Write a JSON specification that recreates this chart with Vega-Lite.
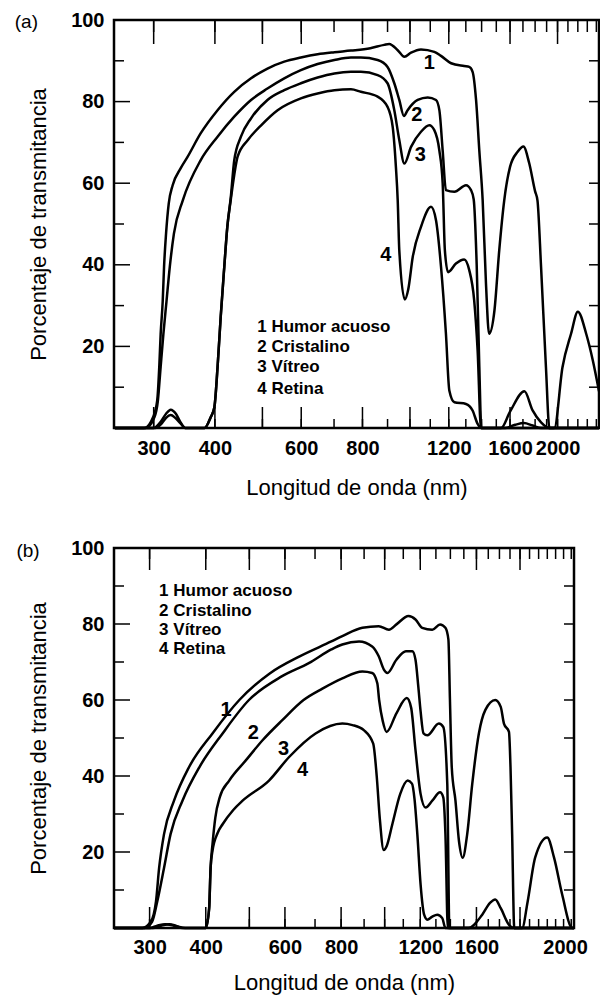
{
  "$schema": "https://vega.github.io/schema/vega-lite/v6.json",
  "background": "white",
  "padding": {"left": 13, "top": 8, "right": 0, "bottom": 0},
  "spacing": 36,
  "config": {
    "font": "Liberation Sans",
    "view": {"stroke": "black", "strokeWidth": 2.5},
    "tick": {"opacity": 1},
    "axis": {"grid": false, "domain": false, "ticks": false, "tickSize": 0, "labelColor": "black", "titleColor": "black", "labelFont": "Liberation Sans", "titleFont": "Liberation Sans", "labelFlush": false, "labelOverlap": false}
  },
  "datasets": {
    "curvesA": [
      {"curve":"1","nm":250,"pct":0},{"curve":"1","nm":287,"pct":0},{"curve":"1","nm":299,"pct":2.6},{"curve":"1","nm":305,"pct":6.7},{"curve":"1","nm":308,"pct":15},{"curve":"1","nm":310,"pct":23},{"curve":"1","nm":313,"pct":31},{"curve":"1","nm":315,"pct":39.5},{"curve":"1","nm":318,"pct":47.7},{"curve":"1","nm":322,"pct":55},{"curve":"1","nm":328,"pct":59.5},{"curve":"1","nm":340,"pct":63.5},{"curve":"1","nm":352,"pct":66.5},{"curve":"1","nm":374,"pct":72.2},{"curve":"1","nm":405,"pct":77.9},{"curve":"1","nm":438,"pct":82.4},{"curve":"1","nm":474,"pct":85.7},{"curve":"1","nm":512,"pct":88.1},{"curve":"1","nm":554,"pct":89.8},{"curve":"1","nm":599,"pct":90.8},{"curve":"1","nm":648,"pct":91.6},{"curve":"1","nm":701,"pct":92.1},{"curve":"1","nm":758,"pct":92.5},{"curve":"1","nm":830,"pct":93.1},{"curve":"1","nm":886,"pct":93.9},{"curve":"1","nm":907,"pct":94.1},{"curve":"1","nm":944,"pct":92.6},{"curve":"1","nm":974,"pct":91},{"curve":"1","nm":1005,"pct":92},{"curve":"1","nm":1053,"pct":92.8},{"curve":"1","nm":1121,"pct":92.2},{"curve":"1","nm":1157,"pct":91.2},{"curve":"1","nm":1213,"pct":89.4},{"curve":"1","nm":1290,"pct":88.7},{"curve":"1","nm":1321,"pct":88.5},{"curve":"1","nm":1342,"pct":87.3},{"curve":"1","nm":1364,"pct":80.4},{"curve":"1","nm":1385,"pct":68},{"curve":"1","nm":1407,"pct":55.8},{"curve":"1","nm":1429,"pct":35.4},{"curve":"1","nm":1450,"pct":23.1},{"curve":"1","nm":1487,"pct":28.8},{"curve":"1","nm":1521,"pct":43.6},{"curve":"1","nm":1557,"pct":55.8},{"curve":"1","nm":1600,"pct":64},{"curve":"1","nm":1658,"pct":67.7},{"curve":"1","nm":1704,"pct":69},{"curve":"1","nm":1750,"pct":65},{"curve":"1","nm":1800,"pct":58},{"curve":"1","nm":1820,"pct":55.8},{"curve":"1","nm":1851,"pct":39.5},{"curve":"1","nm":1894,"pct":14.9},{"curve":"1","nm":1925,"pct":0},{"curve":"1","nm":1970,"pct":0},{"curve":"1","nm":2047,"pct":14.9},{"curve":"1","nm":2131,"pct":23.1},{"curve":"1","nm":2200,"pct":28.5},{"curve":"1","nm":2288,"pct":23.1},{"curve":"1","nm":2360,"pct":16.6},{"curve":"1","nm":2430,"pct":9},
      {"curve":"2","nm":250,"pct":0},{"curve":"2","nm":289,"pct":0},{"curve":"2","nm":301,"pct":2.6},{"curve":"2","nm":306,"pct":6.7},{"curve":"2","nm":310,"pct":15},{"curve":"2","nm":314,"pct":23},{"curve":"2","nm":318.6,"pct":31},{"curve":"2","nm":323.6,"pct":39.5},{"curve":"2","nm":330,"pct":47.7},{"curve":"2","nm":344,"pct":55.8},{"curve":"2","nm":374,"pct":65.6},{"curve":"2","nm":405,"pct":71.4},{"curve":"2","nm":438,"pct":76.3},{"curve":"2","nm":474,"pct":80.4},{"curve":"2","nm":512,"pct":83.2},{"curve":"2","nm":554,"pct":85.7},{"curve":"2","nm":599,"pct":87.7},{"curve":"2","nm":648,"pct":89.2},{"curve":"2","nm":701,"pct":90.2},{"curve":"2","nm":758,"pct":90.8},{"curve":"2","nm":794,"pct":90.8},{"curve":"2","nm":859,"pct":90.2},{"curve":"2","nm":900,"pct":88.5},{"curve":"2","nm":929,"pct":84.5},{"curve":"2","nm":951,"pct":80.4},{"curve":"2","nm":972,"pct":76.5},{"curve":"2","nm":989,"pct":77.9},{"curve":"2","nm":1037,"pct":80.4},{"curve":"2","nm":1087,"pct":81},{"curve":"2","nm":1130,"pct":80.4},{"curve":"2","nm":1148,"pct":77.9},{"curve":"2","nm":1166,"pct":68},{"curve":"2","nm":1184,"pct":58.3},{"curve":"2","nm":1232,"pct":57.9},{"curve":"2","nm":1301,"pct":59.5},{"curve":"2","nm":1332,"pct":58.3},{"curve":"2","nm":1349,"pct":56},{"curve":"2","nm":1368,"pct":40},{"curve":"2","nm":1385,"pct":15},{"curve":"2","nm":1398,"pct":0},{"curve":"2","nm":1534,"pct":0},{"curve":"2","nm":1600,"pct":4},{"curve":"2","nm":1712,"pct":9},{"curve":"2","nm":1779,"pct":4.3},{"curve":"2","nm":1851,"pct":1.4},{"curve":"2","nm":1925,"pct":0},{"curve":"2","nm":2430,"pct":0},
      {"curve":"3","nm":250,"pct":0},{"curve":"3","nm":300,"pct":0},{"curve":"3","nm":310,"pct":1.5},{"curve":"3","nm":318,"pct":3.5},{"curve":"3","nm":325,"pct":4.5},{"curve":"3","nm":333,"pct":3.5},{"curve":"3","nm":340,"pct":1.5},{"curve":"3","nm":348,"pct":0},{"curve":"3","nm":381,"pct":0},{"curve":"3","nm":392,"pct":2.6},{"curve":"3","nm":399,"pct":5.1},{"curve":"3","nm":405,"pct":14.9},{"curve":"3","nm":411,"pct":27.2},{"curve":"3","nm":418,"pct":39.5},{"curve":"3","nm":424,"pct":49.3},{"curve":"3","nm":431,"pct":56.6},{"curve":"3","nm":438,"pct":65.6},{"curve":"3","nm":452,"pct":71.4},{"curve":"3","nm":474,"pct":75.9},{"curve":"3","nm":512,"pct":80.4},{"curve":"3","nm":554,"pct":82.8},{"curve":"3","nm":599,"pct":84.5},{"curve":"3","nm":648,"pct":85.9},{"curve":"3","nm":701,"pct":86.9},{"curve":"3","nm":758,"pct":87.3},{"curve":"3","nm":794,"pct":87.3},{"curve":"3","nm":859,"pct":86.5},{"curve":"3","nm":900,"pct":84.5},{"curve":"3","nm":929,"pct":77.9},{"curve":"3","nm":951,"pct":70.6},{"curve":"3","nm":974,"pct":64.8},{"curve":"3","nm":1005,"pct":68.9},{"curve":"3","nm":1053,"pct":72.6},{"curve":"3","nm":1095,"pct":74.2},{"curve":"3","nm":1121,"pct":73},{"curve":"3","nm":1148,"pct":68},{"curve":"3","nm":1166,"pct":60},{"curve":"3","nm":1178,"pct":43.6},{"curve":"3","nm":1196,"pct":38.2},{"curve":"3","nm":1241,"pct":40.3},{"curve":"3","nm":1290,"pct":41.3},{"curve":"3","nm":1321,"pct":38.7},{"curve":"3","nm":1352,"pct":31.3},{"curve":"3","nm":1374,"pct":19},{"curve":"3","nm":1396,"pct":0},{"curve":"3","nm":1563,"pct":0},{"curve":"3","nm":1640,"pct":0.8},{"curve":"3","nm":1708,"pct":1.2},{"curve":"3","nm":1780,"pct":0.6},{"curve":"3","nm":1851,"pct":0},{"curve":"3","nm":2430,"pct":0},
      {"curve":"4","nm":250,"pct":0},{"curve":"4","nm":302,"pct":0},{"curve":"4","nm":312,"pct":1.2},{"curve":"4","nm":318,"pct":2.5},{"curve":"4","nm":325,"pct":3.2},{"curve":"4","nm":332,"pct":2.5},{"curve":"4","nm":340,"pct":1.2},{"curve":"4","nm":348,"pct":0},{"curve":"4","nm":381,"pct":0},{"curve":"4","nm":392,"pct":2.6},{"curve":"4","nm":399,"pct":5.1},{"curve":"4","nm":405,"pct":14.9},{"curve":"4","nm":411,"pct":27.2},{"curve":"4","nm":418,"pct":39.5},{"curve":"4","nm":424,"pct":49.3},{"curve":"4","nm":431,"pct":56},{"curve":"4","nm":438,"pct":62},{"curve":"4","nm":445,"pct":66.5},{"curve":"4","nm":467,"pct":70.6},{"curve":"4","nm":497,"pct":74.2},{"curve":"4","nm":537,"pct":77.9},{"curve":"4","nm":599,"pct":80.8},{"curve":"4","nm":648,"pct":82},{"curve":"4","nm":701,"pct":82.8},{"curve":"4","nm":758,"pct":83},{"curve":"4","nm":794,"pct":82.4},{"curve":"4","nm":859,"pct":81.2},{"curve":"4","nm":900,"pct":78.7},{"curve":"4","nm":922,"pct":73.8},{"curve":"4","nm":936,"pct":64},{"curve":"4","nm":944,"pct":55.8},{"curve":"4","nm":951,"pct":43.6},{"curve":"4","nm":976,"pct":31.5},{"curve":"4","nm":992,"pct":34},{"curve":"4","nm":1013,"pct":41.9},{"curve":"4","nm":1053,"pct":49.3},{"curve":"4","nm":1104,"pct":54.2},{"curve":"4","nm":1130,"pct":50.9},{"curve":"4","nm":1157,"pct":39.5},{"curve":"4","nm":1184,"pct":23.1},{"curve":"4","nm":1203,"pct":9.2},{"curve":"4","nm":1232,"pct":6.3},{"curve":"4","nm":1301,"pct":5.9},{"curve":"4","nm":1342,"pct":4.3},{"curve":"4","nm":1374,"pct":1},{"curve":"4","nm":1400,"pct":0},{"curve":"4","nm":2430,"pct":0}
    ],
    "numsA": [
      {"nm":1095,"pct":89.4,"label":"1"},{"nm":1033,"pct":76.7,"label":"2"},{"nm":1050,"pct":66.9,"label":"3"},{"nm":893,"pct":42.3,"label":"4"}
    ],
    "legendA": [
      {"nm":488,"pct":24.7,"label":"1 Humor acuoso"},{"nm":488,"pct":19.8,"label":"2 Cristalino"},{"nm":488,"pct":14.9,"label":"3 Vítreo"},{"nm":488,"pct":9.6,"label":"4 Retina"}
    ],
    "tagA": [{"nm":165,"pct":99.5,"label":"(a)"}],
    "xTicksA": [
      {"nm":300,"kind":"major"},{"nm":400,"kind":"major"},{"nm":500,"kind":"major"},{"nm":600,"kind":"major"},{"nm":700,"kind":"minor"},{"nm":800,"kind":"major"},{"nm":900,"kind":"minor"},{"nm":1000,"kind":"major"},{"nm":1100,"kind":"minor"},{"nm":1200,"kind":"major"},{"nm":1300,"kind":"minor"},{"nm":1400,"kind":"minor"},{"nm":1500,"kind":"minor"},{"nm":1600,"kind":"major"},{"nm":1700,"kind":"minor"},{"nm":1800,"kind":"minor"},{"nm":1900,"kind":"minor"},{"nm":2000,"kind":"major"},{"nm":2100,"kind":"minor"},{"nm":2200,"kind":"minor"},{"nm":2300,"kind":"minor"},{"nm":2400,"kind":"minor"}
    ],
    "xTicksB": [
      {"nm":300,"kind":"major"},{"nm":400,"kind":"major"},{"nm":500,"kind":"major"},{"nm":600,"kind":"major"},{"nm":700,"kind":"minor"},{"nm":800,"kind":"major"},{"nm":900,"kind":"minor"},{"nm":1000,"kind":"major"},{"nm":1100,"kind":"minor"},{"nm":1200,"kind":"major"},{"nm":1300,"kind":"minor"},{"nm":1400,"kind":"minor"},{"nm":1500,"kind":"minor"},{"nm":1600,"kind":"major"},{"nm":1700,"kind":"minor"},{"nm":1800,"kind":"minor"},{"nm":1900,"kind":"minor"},{"nm":2000,"kind":"major"},{"nm":2100,"kind":"minor"},{"nm":2200,"kind":"minor"},{"nm":2300,"kind":"minor"},{"nm":2400,"kind":"minor"},{"nm":2500,"kind":"minor"},{"nm":2600,"kind":"minor"}
    ],
    "yTicks": [
      {"pct":10,"kind":"minor"},{"pct":20,"kind":"major"},{"pct":30,"kind":"minor"},{"pct":40,"kind":"major"},{"pct":50,"kind":"minor"},{"pct":60,"kind":"major"},{"pct":70,"kind":"minor"},{"pct":80,"kind":"major"},{"pct":90,"kind":"minor"}
    ],
    "curvesB": [
      {"curve":"1","nm":250,"pct":0},{"curve":"1","nm":289,"pct":0},{"curve":"1","nm":302,"pct":1.7},{"curve":"1","nm":310,"pct":7},{"curve":"1","nm":315,"pct":15.8},{"curve":"1","nm":323,"pct":24.7},{"curve":"1","nm":340,"pct":33.5},{"curve":"1","nm":367,"pct":42.3},{"curve":"1","nm":414,"pct":51.2},{"curve":"1","nm":475,"pct":60},{"curve":"1","nm":555,"pct":67},{"curve":"1","nm":647,"pct":71.5},{"curve":"1","nm":761,"pct":75.4},{"curve":"1","nm":805,"pct":76.8},{"curve":"1","nm":892,"pct":79},{"curve":"1","nm":970,"pct":79.4},{"curve":"1","nm":1022,"pct":78.5},{"curve":"1","nm":1062,"pct":79.9},{"curve":"1","nm":1130,"pct":82.1},{"curve":"1","nm":1171,"pct":81.2},{"curve":"1","nm":1212,"pct":79},{"curve":"1","nm":1276,"pct":78.5},{"curve":"1","nm":1328,"pct":79.9},{"curve":"1","nm":1365,"pct":79},{"curve":"1","nm":1386,"pct":75.9},{"curve":"1","nm":1397,"pct":60},{"curve":"1","nm":1410,"pct":42.3},{"curve":"1","nm":1437,"pct":33.5},{"curve":"1","nm":1463,"pct":22.9},{"curve":"1","nm":1491,"pct":18.5},{"curve":"1","nm":1526,"pct":24.7},{"curve":"1","nm":1566,"pct":37.9},{"curve":"1","nm":1620,"pct":51.2},{"curve":"1","nm":1675,"pct":57.4},{"curve":"1","nm":1762,"pct":60},{"curve":"1","nm":1812,"pct":58.2},{"curve":"1","nm":1842,"pct":53.8},{"curve":"1","nm":1890,"pct":51.6},{"curve":"1","nm":1905,"pct":42.3},{"curve":"1","nm":1921,"pct":24.7},{"curve":"1","nm":1942,"pct":0},{"curve":"1","nm":2022,"pct":0},{"curve":"1","nm":2080,"pct":7},{"curve":"1","nm":2161,"pct":18.5},{"curve":"1","nm":2299,"pct":23.8},{"curve":"1","nm":2381,"pct":18.5},{"curve":"1","nm":2482,"pct":8.8},{"curve":"1","nm":2613,"pct":0},{"curve":"1","nm":2637,"pct":0},
      {"curve":"2","nm":250,"pct":0},{"curve":"2","nm":292,"pct":0},{"curve":"2","nm":304,"pct":1.7},{"curve":"2","nm":312,"pct":7},{"curve":"2","nm":323,"pct":15.8},{"curve":"2","nm":334,"pct":24.7},{"curve":"2","nm":355,"pct":33.5},{"curve":"2","nm":387,"pct":42.3},{"curve":"2","nm":436,"pct":51.2},{"curve":"2","nm":499,"pct":60},{"curve":"2","nm":590,"pct":66.2},{"curve":"2","nm":678,"pct":69.7},{"curve":"2","nm":761,"pct":73.3},{"curve":"2","nm":805,"pct":74.6},{"curve":"2","nm":877,"pct":75.4},{"curve":"2","nm":938,"pct":74.1},{"curve":"2","nm":970,"pct":71.5},{"curve":"2","nm":996,"pct":68},{"curve":"2","nm":1014,"pct":67.1},{"curve":"2","nm":1062,"pct":70.6},{"curve":"2","nm":1115,"pct":72.8},{"curve":"2","nm":1152,"pct":72.8},{"curve":"2","nm":1171,"pct":70.6},{"curve":"2","nm":1188,"pct":63.5},{"curve":"2","nm":1202,"pct":57},{"curve":"2","nm":1220,"pct":51.2},{"curve":"2","nm":1244,"pct":50.7},{"curve":"2","nm":1320,"pct":53.8},{"curve":"2","nm":1350,"pct":52.9},{"curve":"2","nm":1378,"pct":37.9},{"curve":"2","nm":1393,"pct":0},{"curve":"2","nm":1536,"pct":0},{"curve":"2","nm":1648,"pct":3.5},{"curve":"2","nm":1715,"pct":6.6},{"curve":"2","nm":1762,"pct":7.5},{"curve":"2","nm":1812,"pct":5.2},{"curve":"2","nm":1891,"pct":0.8},{"curve":"2","nm":1942,"pct":0},{"curve":"2","nm":2637,"pct":0},
      {"curve":"3","nm":250,"pct":0},{"curve":"3","nm":300,"pct":0},{"curve":"3","nm":312,"pct":0.6},{"curve":"3","nm":325,"pct":1},{"curve":"3","nm":340,"pct":0.6},{"curve":"3","nm":355,"pct":0},{"curve":"3","nm":400,"pct":0},{"curve":"3","nm":407,"pct":5.2},{"curve":"3","nm":410,"pct":15.8},{"curve":"3","nm":414,"pct":22},{"curve":"3","nm":420,"pct":29},{"curve":"3","nm":430,"pct":34.5},{"curve":"3","nm":451,"pct":38.8},{"curve":"3","nm":491,"pct":44.1},{"curve":"3","nm":535,"pct":49.4},{"curve":"3","nm":592,"pct":54.7},{"curve":"3","nm":660,"pct":60},{"curve":"3","nm":727,"pct":63},{"curve":"3","nm":805,"pct":65.7},{"curve":"3","nm":892,"pct":67.5},{"curve":"3","nm":938,"pct":67.1},{"curve":"3","nm":963,"pct":64.4},{"curve":"3","nm":972,"pct":60},{"curve":"3","nm":990,"pct":54.5},{"curve":"3","nm":1010,"pct":51.6},{"curve":"3","nm":1062,"pct":56.5},{"curve":"3","nm":1120,"pct":60.5},{"curve":"3","nm":1145,"pct":58},{"curve":"3","nm":1171,"pct":46.8},{"curve":"3","nm":1202,"pct":35.3},{"curve":"3","nm":1233,"pct":31.7},{"curve":"3","nm":1276,"pct":33.5},{"curve":"3","nm":1328,"pct":35.7},{"curve":"3","nm":1350,"pct":34.4},{"curve":"3","nm":1365,"pct":24.7},{"curve":"3","nm":1382,"pct":0},{"curve":"3","nm":2637,"pct":0},
      {"curve":"4","nm":250,"pct":0},{"curve":"4","nm":305,"pct":0},{"curve":"4","nm":318,"pct":0.6},{"curve":"4","nm":332,"pct":1},{"curve":"4","nm":345,"pct":0.5},{"curve":"4","nm":360,"pct":0},{"curve":"4","nm":400,"pct":0},{"curve":"4","nm":407,"pct":5.2},{"curve":"4","nm":410,"pct":15.8},{"curve":"4","nm":414,"pct":20.3},{"curve":"4","nm":425,"pct":25},{"curve":"4","nm":436,"pct":27.3},{"curve":"4","nm":460,"pct":31},{"curve":"4","nm":483,"pct":33.5},{"curve":"4","nm":553,"pct":38.8},{"curve":"4","nm":613,"pct":45},{"curve":"4","nm":702,"pct":51.2},{"curve":"4","nm":805,"pct":53.8},{"curve":"4","nm":848,"pct":53.4},{"curve":"4","nm":900,"pct":52},{"curve":"4","nm":943,"pct":48.5},{"curve":"4","nm":960,"pct":40},{"curve":"4","nm":975,"pct":29},{"curve":"4","nm":995,"pct":20.5},{"curve":"4","nm":1010,"pct":21.5},{"curve":"4","nm":1040,"pct":27.3},{"curve":"4","nm":1083,"pct":35.3},{"curve":"4","nm":1125,"pct":38.8},{"curve":"4","nm":1150,"pct":38},{"curve":"4","nm":1165,"pct":34},{"curve":"4","nm":1182,"pct":24.7},{"curve":"4","nm":1202,"pct":11.4},{"curve":"4","nm":1224,"pct":3.5},{"curve":"4","nm":1244,"pct":2.2},{"curve":"4","nm":1276,"pct":3},{"curve":"4","nm":1309,"pct":3.5},{"curve":"4","nm":1343,"pct":2.6},{"curve":"4","nm":1365,"pct":0},{"curve":"4","nm":2637,"pct":0}
    ],
    "numsB": [
      {"nm":444,"pct":57.4,"label":"1"},{"nm":510,"pct":51.2,"label":"2"},{"nm":596,"pct":47.2,"label":"3"},{"nm":657,"pct":41.5,"label":"4"}
    ],
    "legendB": [
      {"nm":315,"pct":88.6,"label":"1 Humor acuoso"},{"nm":315,"pct":83.5,"label":"2 Cristalino"},{"nm":315,"pct":78.5,"label":"3 Vítreo"},{"nm":315,"pct":73.3,"label":"4 Retina"}
    ],
    "tagB": [{"nm":161,"pct":99.1,"label":"(b)"}]
  },
  "vconcat": [
    {
      "width": 485,
      "height": 408,
      "layer": [
        {
          "data": {"name": "curvesA"},
          "mark": {"type": "line", "color": "black", "strokeWidth": 2.5, "interpolate": "monotone", "strokeJoin": "round"},
          "encoding": {
            "x": {"field": "nm", "type": "quantitative", "title": "Longitud de onda (nm)", "scale": {"type": "log", "domain": [249, 2430], "nice": false},
              "axis": {"orient": "bottom", "values": [300,400,600,800,1200,1600,2000], "format": "d",
                "labelPadding": 10, "labelFontSize": 20, "labelFontWeight": "bold",
                "titleFontSize": 22, "titleFontWeight": "normal", "titlePadding": 19}},
            "y": {"field": "pct", "type": "quantitative", "title": "Porcentaje de transmitancia", "scale": {"domain": [0, 100], "nice": false, "zero": true},
              "axis": {"orient": "left", "values": [20,40,60,80,100], "format": "d",
                "labelPadding": 10, "labelFontSize": 20, "labelFontWeight": "bold",
                "titleFontSize": 22, "titleFontWeight": "normal", "titlePadding": 20}},
            "detail": {"field": "curve"}
          }
        },
        {
          "data": {"name": "xTicksA"},
          "transform": [{"filter": "datum.kind == 'major'"}],
          "mark": {"type": "tick", "orient": "vertical", "size": 24, "thickness": 1.5, "color": "black", "yOffset": 12},
          "encoding": {"x": {"field": "nm", "type": "quantitative", "title": "Longitud de onda (nm)"}, "y": {"datum": 100, "type": "quantitative", "title": "Porcentaje de transmitancia"}}
        },
        {
          "data": {"name": "xTicksA"},
          "mark": {"type": "tick", "orient": "vertical", "size": 12, "thickness": 1.5, "color": "black", "yOffset": 6},
          "encoding": {"x": {"field": "nm", "type": "quantitative", "title": "Longitud de onda (nm)"}, "y": {"datum": 100, "type": "quantitative", "title": "Porcentaje de transmitancia"}}
        },
        {
          "data": {"name": "xTicksA"},
          "transform": [{"filter": "datum.kind == 'major'"}],
          "mark": {"type": "tick", "orient": "vertical", "size": 21, "thickness": 1.5, "color": "black", "yOffset": -10.5},
          "encoding": {"x": {"field": "nm", "type": "quantitative", "title": "Longitud de onda (nm)"}, "y": {"datum": 0, "type": "quantitative", "title": "Porcentaje de transmitancia"}}
        },
        {
          "data": {"name": "xTicksA"},
          "mark": {"type": "tick", "orient": "vertical", "size": 9, "thickness": 1.5, "color": "black", "yOffset": -4.5},
          "encoding": {"x": {"field": "nm", "type": "quantitative", "title": "Longitud de onda (nm)"}, "y": {"datum": 0, "type": "quantitative", "title": "Porcentaje de transmitancia"}}
        },
        {
          "data": {"name": "yTicks"},
          "transform": [{"filter": "datum.kind == 'major'"}],
          "mark": {"type": "tick", "orient": "horizontal", "size": 16, "thickness": 1.5, "color": "black", "xOffset": 8},
          "encoding": {"y": {"field": "pct", "type": "quantitative", "title": "Porcentaje de transmitancia"}, "x": {"datum": 249, "type": "quantitative", "title": "Longitud de onda (nm)"}}
        },
        {
          "data": {"name": "yTicks"},
          "transform": [{"filter": "datum.kind == 'minor'"}],
          "mark": {"type": "tick", "orient": "horizontal", "size": 10, "thickness": 1.5, "color": "black", "xOffset": 5},
          "encoding": {"y": {"field": "pct", "type": "quantitative", "title": "Porcentaje de transmitancia"}, "x": {"datum": 249, "type": "quantitative", "title": "Longitud de onda (nm)"}}
        },
        {
          "data": {"name": "yTicks"},
          "mark": {"type": "tick", "orient": "horizontal", "size": 10, "thickness": 1.5, "color": "black", "xOffset": -5},
          "encoding": {"y": {"field": "pct", "type": "quantitative", "title": "Porcentaje de transmitancia"}, "x": {"datum": 2430, "type": "quantitative", "title": "Longitud de onda (nm)"}}
        },
        {
          "data": {"name": "numsA"},
          "mark": {"type": "text", "fontSize": 20, "fontWeight": "bold", "color": "black", "align": "center", "baseline": "middle"},
          "encoding": {"x": {"field": "nm", "type": "quantitative", "title": "Longitud de onda (nm)"}, "y": {"field": "pct", "type": "quantitative", "title": "Porcentaje de transmitancia"}, "text": {"field": "label"}}
        },
        {
          "data": {"name": "legendA"},
          "mark": {"type": "text", "fontSize": 17, "fontWeight": "bold", "color": "black", "align": "left", "baseline": "middle"},
          "encoding": {"x": {"field": "nm", "type": "quantitative", "title": "Longitud de onda (nm)"}, "y": {"field": "pct", "type": "quantitative", "title": "Porcentaje de transmitancia"}, "text": {"field": "label"}}
        },
        {
          "data": {"name": "tagA"},
          "mark": {"type": "text", "fontSize": 19, "color": "black", "align": "center", "baseline": "middle"},
          "encoding": {"x": {"field": "nm", "type": "quantitative", "title": "Longitud de onda (nm)"}, "y": {"field": "pct", "type": "quantitative", "title": "Porcentaje de transmitancia"}, "text": {"field": "label"}}
        }
      ]
    },
    {
      "width": 460,
      "height": 380,
      "layer": [
        {
          "data": {"name": "curvesB"},
          "mark": {"type": "line", "color": "black", "strokeWidth": 2.5, "interpolate": "monotone", "strokeJoin": "round"},
          "encoding": {
            "x": {"field": "nm", "type": "quantitative", "title": "Longitud de onda (nm)", "scale": {"type": "log", "domain": [250, 2637], "nice": false},
              "axis": {"orient": "bottom", "values": [300,400,600,800,1200,1600,2000], "format": "d",
                "labelOffset": {"condition": {"test": "datum.value == 2000", "value": 45}, "value": 0},
                "labelPadding": 9, "labelFontSize": 20, "labelFontWeight": "bold",
                "titleFontSize": 22, "titleFontWeight": "normal", "titlePadding": 15}},
            "y": {"field": "pct", "type": "quantitative", "title": "Porcentaje de transmitancia", "scale": {"domain": [0, 100], "nice": false, "zero": true},
              "axis": {"orient": "left", "values": [20,40,60,80,100], "format": "d",
                "labelPadding": 10, "labelFontSize": 20, "labelFontWeight": "bold",
                "titleFontSize": 22, "titleFontWeight": "normal", "titlePadding": 20}},
            "detail": {"field": "curve"}
          }
        },
        {
          "data": {"name": "xTicksB"},
          "transform": [{"filter": "datum.kind == 'major'"}],
          "mark": {"type": "tick", "orient": "vertical", "size": 22, "thickness": 1.5, "color": "black", "yOffset": 11},
          "encoding": {"x": {"field": "nm", "type": "quantitative", "title": "Longitud de onda (nm)"}, "y": {"datum": 100, "type": "quantitative", "title": "Porcentaje de transmitancia"}}
        },
        {
          "data": {"name": "xTicksB"},
          "mark": {"type": "tick", "orient": "vertical", "size": 11, "thickness": 1.5, "color": "black", "yOffset": 5.5},
          "encoding": {"x": {"field": "nm", "type": "quantitative", "title": "Longitud de onda (nm)"}, "y": {"datum": 100, "type": "quantitative", "title": "Porcentaje de transmitancia"}}
        },
        {
          "data": {"name": "xTicksB"},
          "transform": [{"filter": "datum.kind == 'major'"}],
          "mark": {"type": "tick", "orient": "vertical", "size": 21, "thickness": 1.5, "color": "black", "yOffset": -10.5},
          "encoding": {"x": {"field": "nm", "type": "quantitative", "title": "Longitud de onda (nm)"}, "y": {"datum": 0, "type": "quantitative", "title": "Porcentaje de transmitancia"}}
        },
        {
          "data": {"name": "xTicksB"},
          "mark": {"type": "tick", "orient": "vertical", "size": 9, "thickness": 1.5, "color": "black", "yOffset": -4.5},
          "encoding": {"x": {"field": "nm", "type": "quantitative", "title": "Longitud de onda (nm)"}, "y": {"datum": 0, "type": "quantitative", "title": "Porcentaje de transmitancia"}}
        },
        {
          "data": {"name": "yTicks"},
          "transform": [{"filter": "datum.kind == 'major'"}],
          "mark": {"type": "tick", "orient": "horizontal", "size": 16, "thickness": 1.5, "color": "black", "xOffset": 8},
          "encoding": {"y": {"field": "pct", "type": "quantitative", "title": "Porcentaje de transmitancia"}, "x": {"datum": 250, "type": "quantitative", "title": "Longitud de onda (nm)"}}
        },
        {
          "data": {"name": "yTicks"},
          "transform": [{"filter": "datum.kind == 'minor'"}],
          "mark": {"type": "tick", "orient": "horizontal", "size": 10, "thickness": 1.5, "color": "black", "xOffset": 5},
          "encoding": {"y": {"field": "pct", "type": "quantitative", "title": "Porcentaje de transmitancia"}, "x": {"datum": 250, "type": "quantitative", "title": "Longitud de onda (nm)"}}
        },
        {
          "data": {"name": "yTicks"},
          "mark": {"type": "tick", "orient": "horizontal", "size": 10, "thickness": 1.5, "color": "black", "xOffset": -5},
          "encoding": {"y": {"field": "pct", "type": "quantitative", "title": "Porcentaje de transmitancia"}, "x": {"datum": 2637, "type": "quantitative", "title": "Longitud de onda (nm)"}}
        },
        {
          "data": {"name": "numsB"},
          "mark": {"type": "text", "fontSize": 20, "fontWeight": "bold", "color": "black", "align": "center", "baseline": "middle"},
          "encoding": {"x": {"field": "nm", "type": "quantitative", "title": "Longitud de onda (nm)"}, "y": {"field": "pct", "type": "quantitative", "title": "Porcentaje de transmitancia"}, "text": {"field": "label"}}
        },
        {
          "data": {"name": "legendB"},
          "mark": {"type": "text", "fontSize": 17, "fontWeight": "bold", "color": "black", "align": "left", "baseline": "middle"},
          "encoding": {"x": {"field": "nm", "type": "quantitative", "title": "Longitud de onda (nm)"}, "y": {"field": "pct", "type": "quantitative", "title": "Porcentaje de transmitancia"}, "text": {"field": "label"}}
        },
        {
          "data": {"name": "tagB"},
          "mark": {"type": "text", "fontSize": 19, "color": "black", "align": "center", "baseline": "middle"},
          "encoding": {"x": {"field": "nm", "type": "quantitative", "title": "Longitud de onda (nm)"}, "y": {"field": "pct", "type": "quantitative", "title": "Porcentaje de transmitancia"}, "text": {"field": "label"}}
        }
      ]
    }
  ]
}
